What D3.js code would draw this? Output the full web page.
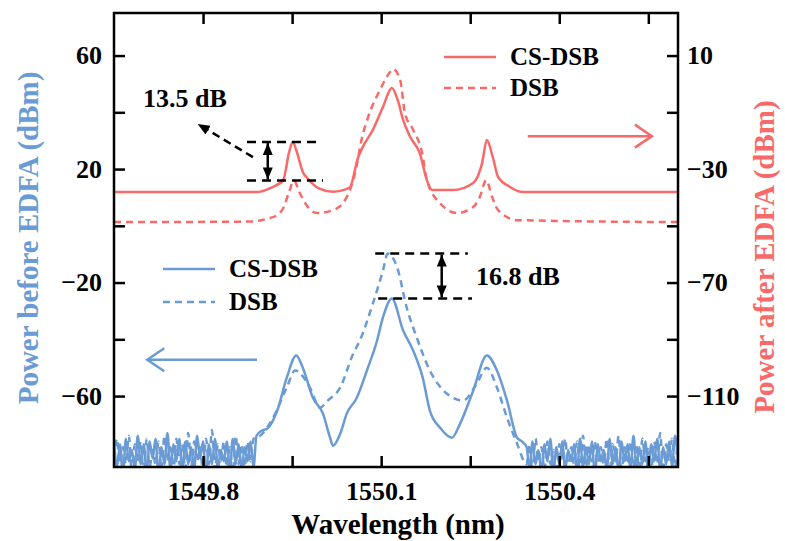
<!DOCTYPE html>
<html>
<head>
<meta charset="UTF-8">
<title>CS-DSB vs DSB spectra</title>
<style>
  body { margin: 0; background: #fff; }
  svg { display: block; }
</style>
</head>
<body>
<svg></svg>
<script src="https://d3js.org/d3.v7.min.js"></script>
<script>

let width = 785, height = 541;
let margin = {top: 13, right: 107, bottom: 74, left: 114};

let red = "#f86a6a", blue = "#6a9bd4";

// ---- data: [wavelength (nm), power (dBm)] ----
// after EDFA (right axis)
let redSolid = [[1549.65,-38.1],[1549.89,-38.1],[1549.915,-36.5],[1549.935,-33.9],[1549.945,-24],[1549.951,-20.5],
  [1549.958,-24],[1549.968,-31],[1549.977,-33.5],[1549.995,-36.8],[1550.019,-38.0],[1550.047,-36.5],[1550.061,-26],
  [1550.069,-22.2],[1550.086,-16.2],[1550.103,-8.1],[1550.118,-1.4],[1550.128,-5.7],[1550.137,-12.7],[1550.149,-18.7],
  [1550.165,-24.4],[1550.177,-33.9],[1550.186,-37.4],[1550.221,-37.4],[1550.255,-34.9],[1550.270,-27.9],[1550.278,-19.8],
  [1550.288,-25.8],[1550.297,-32.8],[1550.317,-36.3],[1550.339,-38.1],[1550.60,-38.1]];

let redDashed = [[1549.65,-48.7],[1549.88,-48.5],[1549.908,-47.5],[1549.925,-46.2],[1549.935,-43.8],[1549.945,-38],
  [1549.953,-34],[1549.962,-38],[1549.972,-42],[1549.992,-45.5],[1550.019,-44.5],[1550.042,-39.9],[1550.056,-31.5],
  [1550.068,-18.7],[1550.078,-11.7],[1550.098,-2.1],[1550.115,4.2],[1550.120,5.3],[1550.132,1.4],[1550.140,-10.2],
  [1550.154,-16.2],[1550.169,-24.4],[1550.177,-33.9],[1550.199,-42],[1550.228,-45.5],[1550.255,-43.4],[1550.266,-39.9],
  [1550.277,-33.9],[1550.287,-39.9],[1550.297,-44.5],[1550.329,-48],[1550.60,-48.7]];

// before EDFA (left axis), signal part
let blueSolidPeaks = [[1549.899,-72.2],[1549.908,-71.5],[1549.925,-65.1],[1549.941,-53.5],[1549.957,-45.7],
  [1549.968,-50],[1549.985,-60.6],[1550.002,-66.2],[1550.014,-74.7],[1550.019,-77.5],[1550.031,-73.3],[1550.042,-66.2],
  [1550.059,-60.6],[1550.076,-51],[1550.093,-40.5],[1550.103,-32.3],[1550.118,-25.6],[1550.137,-36.9],[1550.154,-44],
  [1550.170,-53.5],[1550.182,-65.1],[1550.199,-71.1],[1550.219,-74.7],[1550.233,-69.7],[1550.255,-58.1],[1550.278,-45.7],
  [1550.295,-51],[1550.312,-61.6],[1550.329,-74.7],[1550.337,-76]];

let blueDashedPeaks = [[1549.891,-74.7],[1549.918,-67.6],[1549.941,-57],[1549.955,-51],[1549.980,-57],[1549.997,-64.1],
  [1550.010,-61.6],[1550.031,-57],[1550.053,-45],[1550.064,-40.5],[1550.086,-27.4],[1550.103,-15.8],[1550.111,-9.8],
  [1550.127,-14.7],[1550.143,-28.8],[1550.160,-39.4],[1550.182,-51],[1550.211,-59.2],[1550.238,-61.6],[1550.261,-55.6],
  [1550.278,-50],[1550.295,-57],[1550.312,-67.6],[1550.329,-76.8]];

// noise floor
let noiseWlLeft = [1549.650,1549.655,1549.660,1549.665,1549.670,1549.675,1549.680,1549.685,1549.690,1549.695,
  1549.700,1549.705,1549.710,1549.715,1549.720,1549.725,1549.730,1549.735,1549.740,1549.745,1549.750,1549.755,
  1549.760,1549.765,1549.770,1549.775,1549.780,1549.785,1549.790,1549.795,1549.800,1549.805,1549.810,1549.815,
  1549.820,1549.825,1549.830,1549.835,1549.840,1549.845,1549.850,1549.855,1549.860,1549.865,1549.870,1549.875,
  1549.880,1549.885,1549.890];
let solidNoiseLeft = [-76,-85,-77,-88,-75,-83,-79,-86,-74,-84,-77,-87,-76,-82,-75,-88,-78,-84,-73,-86,-77,-83,-75,
  -87,-76,-84,-78,-86,-74,-82,-76,-88,-77,-84,-75,-86,-79,-83,-76,-87,-75,-84,-77,-86,-78,-83,-76,-85,-74];
let dashedNoiseLeft = [-82,-75,-86,-78,-84,-74,-87,-77,-83,-76,-88,-75,-85,-79,-84,-76,-86,-74,-83,-78,-87,-75,-84,
  -77,-86,-73,-85,-76,-83,-78,-87,-75,-84,-72,-86,-77,-83,-76,-85,-78,-87,-74,-84,-77,-85,-76,-83,-75];

let noiseWlRight = [1550.345,1550.350,1550.355,1550.360,1550.365,1550.370,1550.375,1550.380,1550.385,1550.390,
  1550.395,1550.400,1550.405,1550.410,1550.415,1550.420,1550.425,1550.430,1550.435,1550.440,1550.445,1550.450,
  1550.455,1550.460,1550.465,1550.470,1550.475,1550.480,1550.485,1550.490,1550.495,1550.500,1550.505,1550.510,
  1550.515,1550.520,1550.525,1550.530,1550.535,1550.540,1550.545,1550.550,1550.555,1550.560,1550.565,1550.570,
  1550.575,1550.580,1550.585,1550.590,1550.595,1550.600];
let solidNoiseRight = [-78,-86,-76,-84,-79,-87,-77,-83,-75,-88,-78,-84,-76,-86,-79,-83,-77,-87,-75,-85,-78,-84,-76,
  -88,-77,-83,-79,-86,-75,-84,-78,-87,-76,-83,-77,-86,-74,-85,-78,-84,-76,-87,-77,-83,-75,-86,-78,-84,-76,-85,-74,-83];
let dashedNoiseRight = [-84,-77,-87,-75,-83,-78,-86,-76,-84,-79,-88,-77,-83,-75,-86,-78,-84,-76,-87,-74,-85,-77,-83,
  -76,-86,-78,-84,-75,-87,-77,-83,-74,-86,-78,-84,-76,-85,-77,-88,-75,-83,-78,-86,-76,-84,-73,-87,-77,-83,-75,-85,-74];

let blueSolid = d3.zip(noiseWlLeft, solidNoiseLeft).concat(blueSolidPeaks, d3.zip(noiseWlRight, solidNoiseRight));
let blueDashed = d3.zip(noiseWlLeft, dashedNoiseLeft).concat(blueDashedPeaks, d3.zip(noiseWlRight, dashedNoiseRight));

// ticks
let xTicks = [1549.8, 1549.95, 1550.1, 1550.25, 1550.4, 1550.55];
let xLabels = [1549.8, 1550.1, 1550.4];
let yLeftTicks = [-60, -40, -20, 0, 20, 40, 60];
let yLeftLabels = [-60, -20, 20, 60];
let yRightTicks = [-110, -90, -70, -50, -30, -10, 10];
let yRightLabels = [-110, -70, -30, 10];

let svg = d3.select("svg").attr("width", width).attr("height", height);

let x = d3.scaleLinear().domain([1549.65, 1550.6]).range([margin.left, width - margin.right]);
let yL = d3.scaleLinear().domain([-85, 75]).range([height - margin.bottom, margin.top]);
let yR = d3.scaleLinear().domain([-135, 25]).range([height - margin.bottom, margin.top]);

let fmt = d => (d < 0 ? "\u2212" + Math.abs(d) : "" + d);

// every text gets the serif bold font inline
function serif(sel, size) {
  return sel.style("font-family", '"Liberation Serif"')
    .style("font-weight", "bold")
    .style("font-size", size + "px");
}

let defs = svg.append("defs");
defs.append("clipPath").attr("id", "clip")
  .append("rect")
    .attr("x", margin.left).attr("y", margin.top)
    .attr("width", width - margin.left - margin.right)
    .attr("height", height - margin.top - margin.bottom);

defs.append("marker")
    .attr("id", "head")
    .attr("viewBox", "0 -5 12 10")
    .attr("refX", 12).attr("refY", 0)
    .attr("markerUnits", "userSpaceOnUse")
    .attr("markerWidth", 12).attr("markerHeight", 10)
    .attr("orient", "auto-start-reverse")
  .append("path")
    .attr("d", "M0,-5L12,0L0,5Z")
    .attr("fill", "black");

// traces
let lineL = d3.line().x(d => x(d[0])).y(d => yL(d[1])).curve(d3.curveMonotoneX);
let lineR = d3.line().x(d => x(d[0])).y(d => yR(d[1])).curve(d3.curveMonotoneX);

let plot = svg.append("g").attr("clip-path", "url(#clip)");

plot.append("path").datum(blueDashed)
  .attr("fill", "none").attr("stroke", blue).attr("stroke-width", 2.5)
  .attr("stroke-dasharray", "7,5").attr("d", lineL);
plot.append("path").datum(blueSolid)
  .attr("fill", "none").attr("stroke", blue).attr("stroke-width", 2.5).attr("d", lineL);
plot.append("path").datum(redDashed)
  .attr("fill", "none").attr("stroke", red).attr("stroke-width", 2.5)
  .attr("stroke-dasharray", "7,5").attr("d", lineR);
plot.append("path").datum(redSolid)
  .attr("fill", "none").attr("stroke", red).attr("stroke-width", 2.5).attr("d", lineR);

// axes, ticks inward
let ax = svg.append("g").attr("class", "axes");

ax.append("g")
  .attr("transform", `translate(0,${height - margin.bottom})`)
  .call(d3.axisBottom(x).tickValues(xTicks).tickSize(-11).tickPadding(15)
    .tickFormat(d => xLabels.includes(d) ? d3.format(".1f")(d) : ""));
ax.append("g")
  .attr("transform", `translate(0,${margin.top})`)
  .call(d3.axisTop(x).tickValues(xTicks).tickSize(-11).tickFormat(""));
ax.append("g")
  .attr("transform", `translate(${margin.left},0)`)
  .call(d3.axisLeft(yL).tickValues(yLeftTicks).tickSize(-11).tickPadding(12)
    .tickFormat(d => yLeftLabels.includes(d) ? fmt(d) : ""));
ax.append("g")
  .attr("transform", `translate(${width - margin.right},0)`)
  .call(d3.axisRight(yR).tickValues(yRightTicks).tickSize(-11).tickPadding(9)
    .tickFormat(d => yRightLabels.includes(d) ? fmt(d) : ""));

ax.selectAll(".domain").remove();
ax.selectAll(".tick line").attr("stroke", "black").attr("stroke-width", 2.5);
serif(ax.selectAll(".tick text").attr("fill", "black"), 26);

svg.append("rect")
  .attr("x", margin.left).attr("y", margin.top)
  .attr("width", width - margin.left - margin.right)
  .attr("height", height - margin.top - margin.bottom)
  .attr("fill", "none").attr("stroke", "black").attr("stroke-width", 2.5);

// axis titles
serif(svg.append("text"), 29)
  .attr("x", (margin.left + width - margin.right) / 2 + 2)
  .attr("y", 534)
  .attr("text-anchor", "middle")
  .text("Wavelength (nm)");

serif(svg.append("text"), 29)
  .attr("transform", "translate(38,238) rotate(-90)")
  .attr("text-anchor", "middle")
  .attr("fill", blue)
  .text("Power before EDFA (dBm)");

serif(svg.append("text"), 29)
  .attr("transform", "translate(774,257) rotate(-90)")
  .attr("text-anchor", "middle")
  .attr("fill", red)
  .text("Power after EDFA (dBm)");

// legends
function legend(items, color, lx, ly, gap) {
  let g = svg.append("g");
  items.forEach((label, i) => {
    g.append("line")
      .attr("x1", lx).attr("x2", lx + 52)
      .attr("y1", ly + i * gap).attr("y2", ly + i * gap)
      .attr("stroke", color).attr("stroke-width", 2.5)
      .attr("stroke-dasharray", i == 1 ? "7,5" : null);
    serif(g.append("text"), 25)
      .attr("x", lx + 66).attr("y", ly + i * gap + 8)
      .text(label);
  });
}
legend(["CS-DSB", "DSB"], red, 444, 57, 31);
legend(["CS-DSB", "DSB"], blue, 163, 269, 33);

// direction arrows (open heads)
function openArrow(x1, x2, yy, color) {
  let dir = x2 > x1 ? -1 : 1;
  svg.append("line")
    .attr("x1", x1).attr("x2", x2).attr("y1", yy).attr("y2", yy)
    .attr("stroke", color).attr("stroke-width", 2.5);
  svg.append("path")
    .attr("d", `M${x2 + dir * 17},${yy - 11.5}L${x2},${yy}L${x2 + dir * 17},${yy + 11.5}`)
    .attr("fill", "none").attr("stroke", color).attr("stroke-width", 2.5);
}
openArrow(x(1550.347), x(1550.556), yR(-18.4), red);
openArrow(x(1549.891), x(1549.706), yL(-47.2), blue);

// 13.5 dB annotation
let ann = svg.append("g");
function dashLine(xa, xb, yy) {
  ann.append("line")
    .attr("x1", xa).attr("x2", xb).attr("y1", yy).attr("y2", yy)
    .attr("stroke", "black").attr("stroke-width", 2.5).attr("stroke-dasharray", "9,6");
}
function dblArrow(xx, ya, yb) {
  ann.append("line")
    .attr("x1", xx).attr("x2", xx).attr("y1", ya).attr("y2", yb)
    .attr("stroke", "black").attr("stroke-width", 2.5)
    .attr("marker-start", "url(#head)").attr("marker-end", "url(#head)");
}

dashLine(x(1549.874), x(1549.994), yR(-20.5));
dashLine(x(1549.874), x(1550.002), yR(-34));
dblArrow(x(1549.909), yR(-20.5) + 1, yR(-34) - 1);
ann.append("line")
  .attr("x1", x(1549.884)).attr("y1", yR(-25.8))
  .attr("x2", x(1549.791)).attr("y2", yR(-14.1))
  .attr("stroke", "black").attr("stroke-width", 2.5).attr("stroke-dasharray", "8,5")
  .attr("marker-end", "url(#head)");
serif(ann.append("text"), 26)
  .attr("x", 143).attr("y", 107)
  .text("13.5 dB");

// 16.8 dB annotation
dashLine(x(1550.090), x(1550.246), yL(-9.8));
dashLine(x(1550.095), x(1550.253), yL(-25.6));
dblArrow(x(1550.202), yL(-9.8) + 1, yL(-25.6) - 1);
serif(ann.append("text"), 26)
  .attr("x", 476).attr("y", 285)
  .text("16.8 dB");

</script>
</body>
</html>
